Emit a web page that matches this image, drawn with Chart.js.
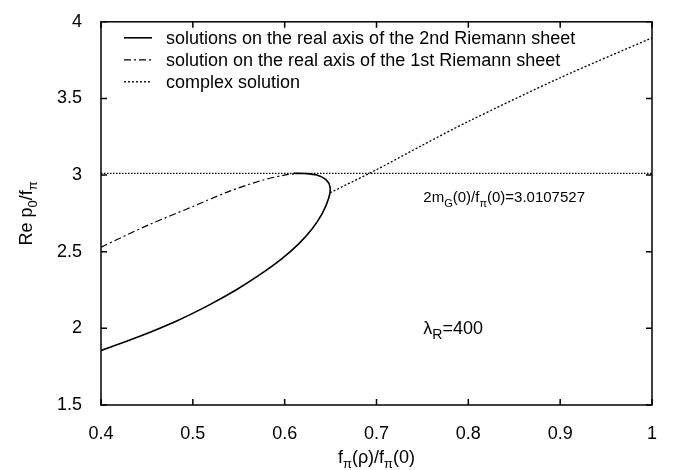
<!DOCTYPE html>
<html>
<head>
<meta charset="utf-8">
<script src="https://cdn.jsdelivr.net/npm/chart.js@4/dist/chart.umd.min.js"></script>
<style>
  body { margin: 0; background: #fff; }
</style>
</head>
<body>
<canvas id="chart" width="678" height="470"></canvas>
<script>
// values
const solidX = [0.4, 0.443, 0.483, 0.517, 0.547, 0.573, 0.596, 0.615, 0.630, 0.641, 0.648, 0.6495, 0.645, 0.635, 0.622, 0.61];
const solidY = [1.855, 1.95, 2.05, 2.15, 2.25, 2.35, 2.45, 2.55, 2.65, 2.75, 2.85, 2.92, 2.97, 3.0, 3.01, 3.0115];

const firstSheetX = [0.4, 0.45, 0.5, 0.54, 0.575, 0.6, 0.615];
const firstSheetY = [2.53, 2.67, 2.795, 2.895, 2.965, 3.0, 3.0107];

const complexX = [0.6495, 0.7, 0.75, 0.8, 0.9, 1.0];
const complexY = [2.885, 3.035, 3.195, 3.35, 3.635, 3.895];

const thresholdX = [0.4, 1.0];
const thresholdValue = 3.0107527;

const xTicks = [0.4, 0.5, 0.6, 0.7, 0.8, 0.9, 1.0];
const yTicks = [1.5, 2, 2.5, 3, 3.5, 4];

const legendLabels = [
    'solutions on the real axis of the 2nd Riemann sheet',
    'solution on the real axis of the 1st Riemann sheet',
    'complex solution'
];

const FONT = '"Liberation Sans", Arial, sans-serif';

function toPoints(xs, ys) {
    return xs.map((x, i) => ({ x: x, y: ys[i] }));
}

// draw text made of [text, isSubscript] parts
function richWidth(ctx, parts, size, subSize) {
    let w = 0;
    parts.forEach(p => {
        ctx.font = (p[1] ? subSize : size) + 'px ' + FONT;
        w += ctx.measureText(p[0]).width;
    });
    return w;
}
function drawRich(ctx, parts, x, y, size, subSize, align) {
    let cx = x;
    if (align === 'center') cx = x - richWidth(ctx, parts, size, subSize) / 2;
    ctx.textAlign = 'left';
    ctx.textBaseline = 'alphabetic';
    parts.forEach(p => {
        ctx.font = (p[1] ? subSize : size) + 'px ' + FONT;
        ctx.fillText(p[0], cx, p[1] ? y + size * 0.3 : y);
        cx += ctx.measureText(p[0]).width;
    });
}

const framePlugin = {
    id: 'frame',
    afterDraw(chart) {
        const ctx = chart.ctx;
        const a = chart.chartArea;
        const xs = chart.scales.x, ys = chart.scales.y;
        ctx.save();
        ctx.strokeStyle = '#000';
        ctx.fillStyle = '#000';
        ctx.setLineDash([]);
        ctx.lineWidth = 1.5;
        ctx.strokeRect(a.left, a.top, a.right - a.left, a.bottom - a.top);

        // inward ticks on all four sides
        const tl = 6;
        ctx.beginPath();
        xTicks.forEach(v => {
            const px = xs.getPixelForValue(v);
            ctx.moveTo(px, a.bottom); ctx.lineTo(px, a.bottom - tl);
            ctx.moveTo(px, a.top); ctx.lineTo(px, a.top + tl);
        });
        yTicks.forEach(v => {
            const py = ys.getPixelForValue(v);
            ctx.moveTo(a.left, py); ctx.lineTo(a.left + tl, py);
            ctx.moveTo(a.right, py); ctx.lineTo(a.right - tl, py);
        });
        ctx.stroke();

        // legend
        chart.data.datasets.slice(0, 3).forEach((ds, i) => {
            const ly = a.top + 16 + i * 22;
            ctx.beginPath();
            ctx.lineWidth = ds.borderWidth;
            ctx.setLineDash(ds.borderDash || []);
            ctx.moveTo(124, ly); ctx.lineTo(152, ly);
            ctx.stroke();
            ctx.setLineDash([]);
            ctx.font = '18px ' + FONT;
            ctx.textAlign = 'left';
            ctx.textBaseline = 'middle';
            ctx.fillText(legendLabels[i], 166, ly + 1);
        });

        // axis titles
        drawRich(ctx, [['f', 0], ['\u03c0', 1], ['(\u03c1)/f', 0], ['\u03c0', 1], ['(0)', 0]],
            (a.left + a.right) / 2, 463, 18, 13, 'center');
        ctx.save();
        ctx.translate(32, (a.top + a.bottom) / 2);
        ctx.rotate(-Math.PI / 2);
        drawRich(ctx, [['Re p', 0], ['0', 1], ['/f', 0], ['\u03c0', 1]], 0, 0, 18, 13, 'center');
        ctx.restore();

        // annotations
        const thY = ys.getPixelForValue(thresholdValue);
        drawRich(ctx, [['2m', 0], ['G', 1], ['(0)/f', 0], ['\u03c0', 1], ['(0)=' + thresholdValue, 0]],
            xs.getPixelForValue(0.751), thY + 29, 15, 11, 'left');
        drawRich(ctx, [['\u03bb', 0], ['R', 1], ['=400', 0]],
            xs.getPixelForValue(0.751), ys.getPixelForValue(1.965), 18, 14, 'left');
        ctx.restore();
    }
};

const ctx = document.getElementById('chart').getContext('2d');
new Chart(ctx, {
    type: 'scatter',
    data: {
        datasets: [
            {
                data: toPoints(solidX, solidY),
                showLine: true, borderColor: '#000', borderWidth: 1.6,
                pointRadius: 0, tension: 0.3, fill: false
            },
            {
                data: toPoints(firstSheetX, firstSheetY),
                showLine: true, borderColor: '#000', borderWidth: 1.2,
                borderDash: [7, 3, 2, 3],
                pointRadius: 0, tension: 0.3, fill: false
            },
            {
                data: toPoints(complexX, complexY),
                showLine: true, borderColor: '#000', borderWidth: 1.3,
                borderDash: [2, 2],
                pointRadius: 0, tension: 0.3, fill: false
            },
            {
                data: toPoints(thresholdX, thresholdX.map(() => thresholdValue)),
                showLine: true, borderColor: '#000', borderWidth: 1.2,
                borderDash: [1.5, 1.5],
                pointRadius: 0, fill: false
            }
        ]
    },
    options: {
        responsive: false,
        devicePixelRatio: 1,
        animation: false,
        layout: { padding: { top: 12, right: 26, left: 0, bottom: 0 } },
        plugins: { legend: { display: false }, tooltip: { enabled: false } },
        scales: {
            x: {
                type: 'linear', min: 0.4, max: 1,
                afterFit: s => { s.height = 65; },
                afterBuildTicks: s => { s.ticks = xTicks.map(v => ({ value: v })); },
                ticks: {
                    padding: 10, color: '#000', font: { family: FONT, size: 18 },
                    maxRotation: 0,
                    callback: v => String(Number(v.toFixed(1)))
                },
                grid: { display: false },
                border: { display: false }
            },
            y: {
                type: 'linear', min: 1.5, max: 4,
                afterFit: s => { s.width = 101; },
                afterBuildTicks: s => { s.ticks = yTicks.map(v => ({ value: v })); },
                ticks: {
                    padding: 11, color: '#000', font: { family: FONT, size: 18 },
                    callback: v => String(v)
                },
                grid: { display: false },
                border: { display: false }
            }
        }
    },
    plugins: [framePlugin]
});
</script>
</body>
</html>
